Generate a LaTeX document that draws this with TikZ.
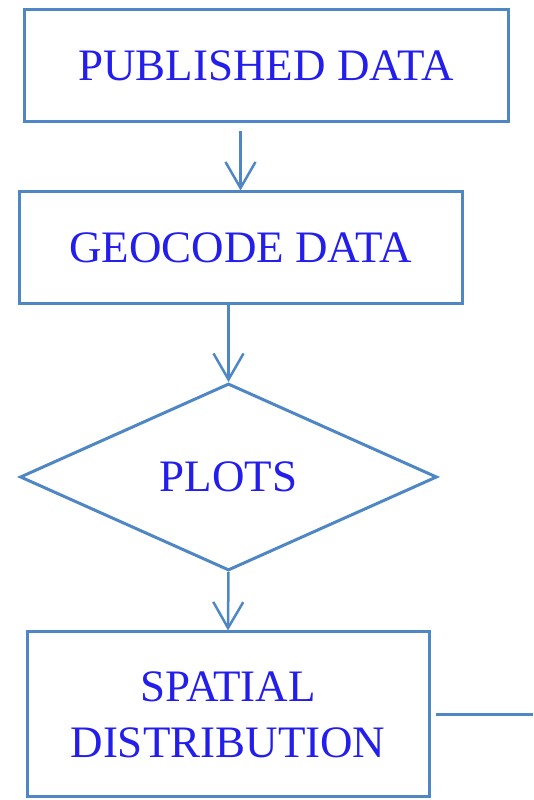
\documentclass[tikz,border=0pt]{standalone}
\usepackage{fontspec}
\setmainfont{Liberation Serif}
\usetikzlibrary{shapes.geometric, arrows.meta, positioning}
\definecolor{trait}{RGB}{79,135,196}
\definecolor{texte}{RGB}{35,30,235}

\begin{document}
\begin{tikzpicture}[x=1pt,y=1pt,
  boite/.style={draw=trait, line width=3pt, rectangle, text=texte,
    font=\fontsize{45}{56}\selectfont, align=center, inner sep=0pt},
  losange/.style={draw=trait, line width=3pt, diamond, text=texte,
    font=\fontsize{45}{56}\selectfont, inner sep=0pt},
  fleche/.style={draw=trait, line width=2.5pt,
    -{Straight Barb[length=26pt,width=30pt]}}]

\useasboundingbox (0,0) rectangle (533,800);

% les cases
\node[boite, minimum width=484, minimum height=112] (pub) at (266,734) {PUBLISHED DATA};
\node[boite, minimum width=443, minimum height=112] (geo) at (240.5,552) {GEOCODE DATA};
\node[losange, minimum width=417, minimum height=187] (plots) at (228.5,323) {PLOTS};
\node[boite, minimum width=402, minimum height=165] (spat) at (228,85.5) {SPATIAL\\DISTRIBUTION};
\coordinate (sortie) at (533,85.5);

% les fleches
\draw[fleche, shorten <=8pt] (pub.south -| geo.north) -- (geo.north);
\draw[fleche] (geo.south -| plots.north) -- (plots.north);
\draw[fleche] (plots.south) -- (spat.north);
\draw[draw=trait, line width=2.5pt, shorten <=5pt] (spat.east) -- (sortie);

\end{tikzpicture}
\end{document}
